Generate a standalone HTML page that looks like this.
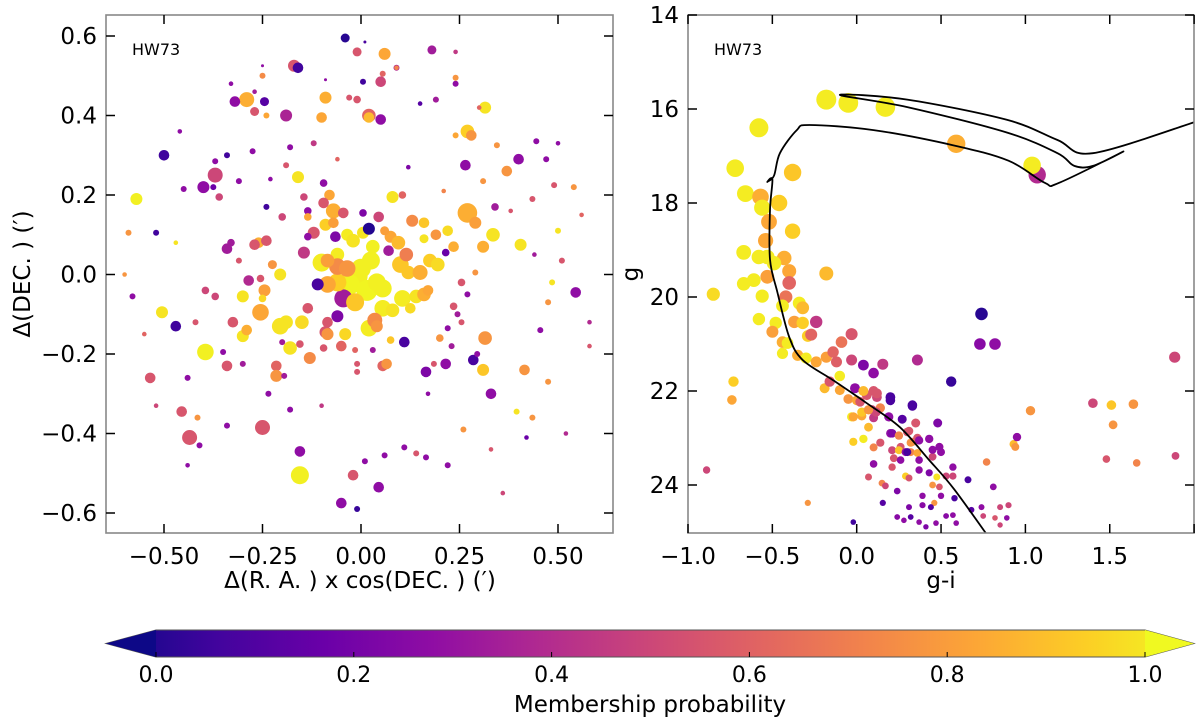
<!DOCTYPE html>
<html><head><meta charset="utf-8"><style>
html,body{margin:0;padding:0;background:#fff;}
svg{display:block;font-family:"DejaVu Sans","Liberation Sans",sans-serif;}
</style></head><body>
<svg id="fig" width="1200" height="724" viewBox="0 0 1200 724">
<defs>
<linearGradient id="plasma" x1="0" x2="1" y1="0" y2="0">
<stop offset="0" stop-color="#0d0887"/><stop offset="0.1" stop-color="#41049d"/><stop offset="0.2" stop-color="#6a00a8"/><stop offset="0.3" stop-color="#8f0da4"/><stop offset="0.4" stop-color="#b12a90"/><stop offset="0.5" stop-color="#cc4778"/><stop offset="0.6" stop-color="#e16462"/><stop offset="0.7" stop-color="#f2844b"/><stop offset="0.8" stop-color="#fca636"/><stop offset="0.9" stop-color="#fcce25"/><stop offset="1" stop-color="#f0f921"/>
</linearGradient>
<clipPath id="clipL"><rect x="106" y="15" width="507" height="518"/></clipPath>
<clipPath id="clipR"><rect x="688" y="15" width="506" height="518"/></clipPath>
</defs>
<g id="leftPanel"></g>
<g id="rightPanel"></g>
<g id="cbar"></g>
</svg>
<script>
// ---- Left panel data (arcmin offsets, membership prob, g magnitude) ----
const raX=[-0.04,0.01,-0.01,0.06,0.18,-0.17,-0.16,-0.25,-0.25,-0.33,-0.09,0.005,0.055,0.05,0.09,-0.29,-0.32,-0.245,-0.27,-0.24,-0.19,-0.09,-0.1,-0.03,-0.01,0.02,0.02,0.05,0.15,0.19,0.24,0.27,0.24,
-0.10,-0.06,-0.035,-0.02,0.005,0.02,0.03,0.025,0.0,-0.01,-0.03,0.015,0.055,0.04,-0.045,-0.015,-0.06,-0.085,-0.06,-0.035,-0.085,-0.11,-0.06,0.02,0.055,0.08,0.105,0.125,0.035,0.10,0.115,0.12,0.15,0.175,0.195,0.14,0.16,0.17,0.075,0.095,0.06,0.13,0.16,0.16,0.19,0.22,0.235,0.215,0.27,0.29,0.335,0.31,0.34,0.07,0.005,0.045,-0.065,-0.12,-0.135,-0.09,-0.07,-0.045,-0.07,-0.08,-0.095,-0.145,-0.135,-0.135,-0.095,0.08,0.105,-0.145,-0.205,-0.225,-0.26,-0.24,-0.27,-0.34,-0.33,-0.31,-0.285,-0.255,-0.245,-0.25,-0.30,-0.255,-0.395,-0.37,-0.40,-0.36,-0.375,-0.24,-0.20,-0.135,-0.205,-0.19,-0.15,-0.325,-0.30,-0.29,-0.20,-0.18,-0.155,-0.13,-0.095,-0.085,-0.09,-0.085,-0.04,-0.05,-0.015,0.03,0.04,0.075,0.11,0.20,0.315,-0.395,-0.35,-0.34,-0.30,-0.215,-0.215,-0.195,-0.01,0.055,0.065,-0.01,0.165,0.215,0.285,0.31,0.27,0.245,0.235,0.255,0.29,0.255,0.22,0.23,0.185,0.295,
-0.57,-0.59,-0.52,-0.47,-0.58,-0.505,-0.47,-0.42,-0.535,-0.44,-0.455,-0.415,-0.435,-0.41,-0.34,-0.25,-0.18,-0.235,-0.155,-0.155,-0.02,-0.05,-0.01,0.045,0.01,0.06,0.11,0.14,0.165,0.22,0.26,0.33,0.395,0.415,0.435,0.475,0.455,0.475,0.545,0.485,0.51,0.405,0.50,0.49,0.54,0.47,0.435,0.40,0.37,0.345,0.31,0.265,0.28,0.315,0.24,0.445,
-0.50,-0.37,-0.34,-0.37,-0.45,-0.18,-0.275,-0.31,-0.16,-0.19,-0.23,-0.12,-0.06,0.12,0.21,0.38,0.44,0.56,0.58,-0.60,-0.52,-0.44,0.33,0.42,0.52,-0.10,0.17,0.30,-0.27,0.09,-0.46,0.36,0.50,0.58,-0.55,0.24];
const decY=[0.595,0.585,0.56,0.555,0.565,0.525,0.52,0.525,0.50,0.48,0.49,0.485,0.505,0.485,0.52,0.44,0.435,0.435,0.41,0.40,0.40,0.445,0.395,0.445,0.44,0.40,0.395,0.39,0.43,0.44,0.48,0.36,0.35,
0.03,0.05,0.10,0.085,0.105,0.115,0.07,0.035,0.015,-0.005,-0.025,-0.04,-0.035,-0.02,-0.06,-0.07,-0.02,-0.025,0.02,0.015,0.035,-0.025,-0.105,-0.135,-0.085,-0.09,-0.06,-0.085,-0.115,0.025,0.05,0.005,0.005,0.035,0.025,-0.055,-0.05,-0.04,0.095,0.08,0.11,0.135,0.13,0.09,0.10,0.11,0.07,0.055,0.155,0.13,0.10,0.07,0.17,0.06,0.155,0.145,0.095,0.105,0.095,0.125,0.16,0.155,0.13,0.20,0.18,0.195,0.16,0.145,0.23,0.195,0.20,0.055,0.0,0.025,0.08,0.085,0.075,0.065,0.08,0.035,-0.015,-0.01,-0.04,-0.06,-0.055,-0.095,-0.04,-0.055,0.22,0.195,0.22,0.17,0.145,-0.085,-0.13,-0.12,-0.12,-0.12,-0.155,-0.14,-0.17,-0.185,-0.175,-0.21,-0.185,-0.12,-0.145,-0.15,-0.15,-0.18,-0.19,-0.19,-0.13,-0.165,-0.17,-0.16,-0.16,-0.195,-0.195,-0.23,-0.225,-0.23,-0.255,-0.255,-0.225,-0.23,-0.225,-0.245,-0.245,-0.225,-0.215,-0.24,-0.05,-0.10,-0.08,-0.12,0.005,-0.02,-0.135,-0.18,-0.225,-0.20,
0.19,0.105,0.105,0.08,-0.055,-0.095,-0.13,-0.12,-0.26,-0.26,-0.345,-0.36,-0.41,-0.43,-0.38,-0.385,-0.34,-0.30,-0.445,-0.505,-0.505,-0.575,-0.59,-0.535,-0.47,-0.455,-0.435,-0.45,-0.46,-0.48,-0.39,-0.30,-0.345,-0.24,-0.36,-0.27,-0.14,-0.07,-0.045,-0.02,0.035,0.075,0.11,0.225,0.22,0.29,0.19,0.29,0.26,0.325,0.235,0.275,0.35,0.42,0.495,0.335,
0.30,0.285,0.30,0.25,0.215,0.32,0.31,0.235,0.245,0.275,0.24,0.33,0.29,0.27,0.21,0.16,0.05,0.15,-0.12,0.0,-0.33,-0.48,-0.44,-0.41,-0.40,-0.33,-0.30,0.42,0.46,0.52,0.36,-0.55,0.33,-0.18,-0.15,0.56];
const probL=[0.05,0.12,0.55,0.8,0.35,0.55,0.1,0.3,0.72,0.3,0.3,0.1,0.6,0.5,0.4,0.82,0.3,0.15,0.55,0.8,0.38,0.82,0.8,0.55,0.55,0.6,0.85,0.3,0.15,0.35,0.3,0.9,0.8,
0.97,0.97,0.97,0.95,0.95,0.04,0.98,0.98,0.98,0.98,0.99,0.99,0.98,0.98,0.35,0.88,0.9,0.8,0.72,0.75,0.78,0.12,0.25,0.97,0.97,0.95,0.97,0.93,0.72,0.88,0.68,0.88,0.82,0.9,0.93,0.95,0.82,0.8,0.8,0.85,0.78,0.72,0.88,0.95,0.75,0.93,0.82,0.2,0.82,0.78,0.95,0.82,0.35,0.35,0.25,0.5,0.25,0.55,0.3,0.9,0.82,0.55,0.78,0.8,0.55,0.5,0.3,0.8,0.3,0.95,0.6,0.45,0.95,0.75,0.82,0.55,0.55,0.35,0.35,0.55,0.4,0.55,0.78,0.92,0.95,0.8,0.5,0.5,0.3,0.5,0.2,0.1,0.5,0.55,0.95,0.95,0.93,0.55,0.95,0.82,0.35,0.95,0.55,0.72,0.55,0.55,0.55,0.75,0.92,0.6,0.6,0.35,0.75,0.88,0.12,0.75,0.75,0.98,0.3,0.55,0.35,0.6,0.75,0.35,0.55,0.6,0.75,0.55,0.25,0.3,0.12,0.88,0.3,0.35,0.55,0.55,0.75,0.55,0.3,0.35,0.55,0.3,
0.98,0.75,0.1,0.95,0.3,0.95,0.1,0.55,0.55,0.3,0.55,0.75,0.55,0.3,0.3,0.55,0.3,0.3,0.3,0.98,0.55,0.3,0.08,0.3,0.3,0.3,0.3,0.55,0.3,0.3,0.75,0.3,0.95,0.75,0.75,0.75,0.3,0.75,0.3,0.95,0.55,0.95,0.95,0.55,0.75,0.3,0.55,0.3,0.75,0.75,0.75,0.3,0.75,0.95,0.75,0.3,
0.1,0.3,0.1,0.5,0.3,0.3,0.3,0.3,0.95,0.55,0.3,0.45,0.6,0.25,0.7,0.55,0.35,0.6,0.4,0.75,0.5,0.3,0.55,0.2,0.4,0.45,0.3,0.6,0.35,0.7,0.3,0.5,0.3,0.55,0.6,0.45];
const magL=[23,25,23,22,23,22,22.5,25,24,24.5,25,24,24,22.5,24,21,22.5,23,23,24,22,22,22.5,24,23.5,21.5,22.5,22.5,24.5,24,24,21.5,24,
20,21.5,22,21.5,22,22,21.5,20,19.5,19,19,19,20,20,20,20,20,20.5,20.5,20.5,21.5,22,22,20.5,20.5,21.5,20.5,22.5,21,20.5,21.5,21.5,21,21.5,21.5,21.5,21.5,22.5,22,21.5,23,22,22.5,23,22.5,22.5,22.5,23.5,19.5,22,21.5,22,23.5,22.5,23.5,22.5,22.5,22,23.5,22,21,22.5,22.5,22.5,22.5,23.5,23.5,23.5,23.5,22,23.5,22,22,23,22.5,22.5,22.5,22.5,23.5,24,22.5,23.5,22,23.5,22,20.5,23.5,23.5,22,23.5,24,24,23.5,22.5,20.5,21.5,21.5,22.5,22,22.5,24,21.5,23.5,22,23.5,22.5,22,22,22,22.5,24,24,22,23.5,22.5,23.5,21.5,20.5,24,22.5,24,22.5,22,24,24,22.5,22.5,24,22.5,22.5,22.5,22,24,24,23.5,24,24,23.5,24,24,24,24,
22,24,24,24.5,24,22,22.5,24,22.5,24,22.5,24,21,24,24,21,24,24,22.5,20,22.5,22.5,24,22.5,24,24,24,24,24,24,24,22.5,24,22.5,24,24,24,24,22.5,24,24,22,24,24,24,24,24,22.5,22.5,24,24,22.5,22.5,22,24,24,
22.5,24,24,21,24,24,24,24,22,24,24.5,24,24.5,24.5,24.5,24.5,24.5,24.5,24.5,24.5,24.5,24.5,24.5,24.5,24.5,24.5,24.5,24.5,24.5,24.5,24.5,24.5,24.5,24.5,24.5,24.5];
const xTicksL=[-0.5,-0.25,0,0.25,0.5], xTickLabL=["\u22120.50","\u22120.25","0.00","0.25","0.50"];
const yTicksL=[-0.6,-0.4,-0.2,0,0.2,0.4,0.6], yTickLabL=["\u22120.6","\u22120.4","\u22120.2","0.0","0.2","0.4","0.6"];

// ---- Right panel data (g-i colour, g magnitude, membership prob) ----
const colGI=[-0.18,-0.05,0.17,0.59,1.07,1.04,-0.58,-0.72,-0.38,-0.66,-0.57,-0.56,-0.46,-0.52,-0.38,-0.54,-0.67,-0.58,-0.53,-0.43,-0.49,-0.40,-0.40,-0.53,-0.18,-0.67,-0.61,-0.85,-0.56,-0.42,-0.34,-0.32,-0.44,-0.58,-0.48,-0.37,-0.32,-0.24,-0.50,-0.44,-0.41,-0.29,-0.27,-0.03,-0.09,-0.44,-0.35,-0.30,-0.24,-0.18,-0.14,-0.12,-0.03,0.04,0.10,0.155,0.36,-0.10,-0.19,-0.16,-0.10,-0.05,-0.01,0.06,0.12,0.20,0.33,-0.03,0.03,0.07,0.10,0.14,0.19,0.27,0.35,0.48,0.56,0.74,0.73,0.82,-0.02,0.04,0.10,0.14,0.20,0.26,0.30,0.33,0.43,0.49,
0.10,0.07,0.15,0.17,0.24,0.21,0.22,0.21,0.26,0.25,0.29,0.32,0.32,0.36,0.37,0.29,0.31,0.37,0.43,0.45,0.49,0.475,0.45,0.49,0.53,0.57,0.57,0.50,0.46,0.39,0.39,0.44,0.31,0.32,0.37,0.41,0.47,0.53,0.58,0.57,0.59,0.66,0.68,0.74,0.75,0.81,0.85,0.82,0.85,0.90,0.89,0.77,0.93,0.155,0.24,0.28,-0.02,
0.00,0.02,0.04,0.10,0.12,0.20,0.33,0.115,0.09,-0.02,0.03,0.07,0.21,0.25,0.31,0.36,0.37,0.45,0.50,0.30,
1.885,1.40,1.51,1.64,1.52,1.48,1.66,1.89,1.03,0.95,0.94,-0.89,-0.73,-0.74,-0.29];
const magG=[15.8,15.87,15.96,16.74,17.4,17.2,16.4,17.26,17.35,17.8,17.87,18.1,18.0,18.4,18.6,18.8,19.05,19.15,19.15,19.17,19.28,19.45,19.7,19.57,19.5,19.72,19.64,19.94,19.98,20.0,20.13,20.23,20.19,20.47,20.55,20.53,20.55,20.53,20.74,20.96,20.98,20.83,20.8,20.79,20.96,21.2,21.24,21.3,21.38,21.28,21.17,21.38,21.34,21.45,21.62,21.43,21.34,21.68,21.94,21.8,21.98,22.17,21.94,22.09,22.13,22.13,22.32,22.55,22.53,22.77,22.57,22.36,22.55,22.6,22.68,22.68,21.8,20.36,21.0,21.0,23.08,23.02,23.2,23.1,22.9,23.19,22.87,23.08,23.02,23.19,
23.55,23.83,23.96,24.02,24.13,23.26,23.43,23.62,23.47,23.26,23.3,23.1,23.3,23.32,23.47,23.81,23.85,23.68,23.74,23.4,23.19,23.83,24.0,24.04,23.81,23.62,23.81,24.23,24.38,24.23,24.43,24.47,24.47,24.68,24.79,24.89,24.81,24.66,24.28,24.64,24.81,23.89,24.53,24.47,24.66,24.04,24.47,24.7,24.85,24.43,24.7,23.51,23.13,24.38,24.68,24.75,24.79,
22.2,22.23,22.0,22.0,22.05,22.2,22.3,22.45,22.4,22.55,22.45,22.4,22.9,22.95,22.85,23.0,23.05,23.25,23.3,23.3,
21.28,22.26,22.3,22.28,22.72,23.45,23.53,23.38,22.42,22.98,23.19,23.68,21.8,22.19,24.38];
const probR=[0.97,0.97,0.97,0.82,0.4,0.97,0.97,0.97,0.88,0.97,0.82,0.97,0.9,0.8,0.9,0.8,0.97,0.97,0.97,0.82,0.97,0.8,0.6,0.78,0.85,0.97,0.97,0.93,0.97,0.65,0.97,0.85,0.97,0.97,0.97,0.78,0.9,0.45,0.78,0.82,0.97,0.9,0.6,0.55,0.65,0.97,0.82,0.97,0.8,0.78,0.6,0.58,0.5,0.25,0.3,0.45,0.4,0.97,0.85,0.55,0.8,0.75,0.3,0.55,0.5,0.12,0.12,0.97,0.8,0.85,0.45,0.7,0.3,0.15,0.55,0.25,0.08,0.05,0.28,0.3,0.9,0.97,0.7,0.55,0.3,0.55,0.55,0.7,0.3,0.5,
0.3,0.55,0.7,0.5,0.25,0.5,0.55,0.55,0.3,0.88,0.3,0.75,0.7,0.8,0.3,0.9,0.55,0.3,0.25,0.5,0.3,0.95,0.75,0.55,0.5,0.3,0.5,0.3,0.75,0.3,0.28,0.15,0.25,0.15,0.3,0.25,0.3,0.28,0.12,0.3,0.3,0.12,0.15,0.3,0.5,0.3,0.5,0.55,0.5,0.5,0.3,0.7,0.85,0.15,0.28,0.3,0.1,
0.8,0.55,0.85,0.55,0.55,0.12,0.12,0.5,0.5,0.8,0.88,0.75,0.25,0.7,0.55,0.55,0.3,0.3,0.3,0.12,
0.5,0.5,0.88,0.75,0.75,0.55,0.7,0.5,0.75,0.3,0.75,0.5,0.9,0.8,0.75];
const xTicksR=[-1,-0.5,0,0.5,1,1.5,2], xTickLabR=["\u22121.0","\u22120.5","0.0","0.5","1.0","1.5",""];
const yTicksR=[14,16,18,20,22,24], yTickLabR=["14","16","18","20","22","24"];
// isochrone
const isoGI=[0.80,0.58,0.43,0.256,0.06,-0.14,-0.32,-0.40,-0.47,-0.514,-0.514,-0.50,-0.53,-0.49,-0.455,-0.355,-0.28,0.10,0.57,0.90,1.115,1.20,1.577,1.40,1.29,1.19,0.89,0.30,-0.10,0.30,0.89,1.19,1.40,2.02];
const isoG=[25.2,24.1,23.47,22.77,22.26,21.77,21.34,20.85,19.9,19.2,18.15,17.5,17.55,17.42,16.94,16.45,16.34,16.45,16.77,17.1,17.57,17.57,16.91,17.21,17.21,16.94,16.5,15.96,15.70,15.8,16.23,16.66,16.94,16.26];
const cbTicks=[0,0.2,0.4,0.6,0.8,1.0], cbLab=["0.0","0.2","0.4","0.6","0.8","1.0"];

const NS="http://www.w3.org/2000/svg";
function mk(tag,attrs,parent){const e=document.createElementNS(NS,tag);for(const k in attrs)e.setAttribute(k,attrs[k]);parent.appendChild(e);return e;}
const stops=[[13,8,135],[65,4,157],[106,0,168],[143,13,164],[177,42,144],[204,71,120],[225,100,98],[242,132,75],[252,166,54],[252,206,37],[240,249,33]];
function plasma(p){p=Math.max(0,Math.min(1,p));const t=p*10,i=Math.min(9,Math.floor(t)),f=t-i;const a=stops[i],b=stops[i+1];return `rgb(${Math.round(a[0]+(b[0]-a[0])*f)},${Math.round(a[1]+(b[1]-a[1])*f)},${Math.round(a[2]+(b[2]-a[2])*f)})`;}

// axis functions
const xL=v=>361+v*394, yL=v=>274.5-v*397.5;
const xR=v=>688+(v+1)*168.7, yR=g=>15+(g-14)*47;

function frame(g,x0,y0,x1,y1,name){
  const r=mk('rect',{x:x0,y:y0,width:x1-x0,height:y1-y0,fill:'none',stroke:'#888',"stroke-width":1.6},g);
  
  
}
function ticks(g,x0,y0,x1,y1,xs,xl,ys,yl,fx,fy,ylabX,axname){
  xs.forEach((v,i)=>{const x=fx(v);
    mk('line',{x1:x,x2:x,y1:y1,y2:y1-9,stroke:'#000',"stroke-width":1.5},g);
    mk('line',{x1:x,x2:x,y1:y0,y2:y0+9,stroke:'#000',"stroke-width":1.5},g);
    if(xl[i]){const t=mk('text',{x:x,y:y1+31,"text-anchor":"middle","font-size":23},g);t.textContent=xl[i];
      
      }
  });
  ys.forEach((v,i)=>{const y=fy(v);
    mk('line',{x1:x0,x2:x0+9,y1:y,y2:y,stroke:'#000',"stroke-width":1.5},g);
    mk('line',{x1:x1,x2:x1-9,y1:y,y2:y,stroke:'#000',"stroke-width":1.5},g);
    const t=mk('text',{x:ylabX,y:y+8,"text-anchor":"end","font-size":23},g);t.textContent=yl[i];
    
    
  });
}
function smoothPath(px,py){
  let d='M'+px[0].toFixed(1)+','+py[0].toFixed(1);
  for(let i=0;i<px.length-1;i++){
    const i0=Math.max(0,i-1),i3=Math.min(px.length-1,i+2);
    const c1x=px[i]+(px[i+1]-px[i0])/6,c1y=py[i]+(py[i+1]-py[i0])/6;
    const c2x=px[i+1]-(px[i3]-px[i])/6,c2y=py[i+1]-(py[i3]-py[i])/6;
    d+='C'+c1x.toFixed(1)+','+c1y.toFixed(1)+' '+c2x.toFixed(1)+','+c2y.toFixed(1)+' '+px[i+1].toFixed(1)+','+py[i+1].toFixed(1);
  }
  return d;
}

// ---- Left panel ----
const L=document.getElementById('leftPanel');
const LP=mk('g',{"clip-path":"url(#clipL)"},L);
for(let i=0;i<raX.length;i++){
  const c=mk('circle',{cx:xL(raX[i]).toFixed(1),cy:yL(decY[i]).toFixed(1),r:Math.max(1.2,(26-magL[i])*1.5).toFixed(1),fill:plasma(probL[i])},LP);
  
  
}
frame(L,106,15,613,533,'spatial-axes-frame');
ticks(L,106,15,613,533,xTicksL,xTickLabL,yTicksL,yTickLabL,xL,yL,97,'spatial');
let t=mk('text',{x:132,y:55,"font-size":16},L);t.textContent='HW73';


t=mk('text',{x:360,y:588,"text-anchor":"middle","font-size":23},L);t.textContent='\u0394(R. A. ) x cos(DEC. ) (\u2032)';


t=mk('text',{x:30,y:274,"text-anchor":"middle","font-size":23,transform:'rotate(-90 30 274)'},L);t.textContent='\u0394(DEC. ) (\u2032)';



// ---- Right panel ----
const R=document.getElementById('rightPanel');
const RP=mk('g',{"clip-path":"url(#clipR)"},R);
for(let i=0;i<colGI.length;i++){
  const c=mk('circle',{cx:xR(colGI[i]).toFixed(1),cy:yR(magG[i]).toFixed(1),r:(2.6+(25-magG[i])*0.8).toFixed(1),fill:plasma(probR[i])},RP);
  
  
}
const ipx=isoGI.map(xR), ipy=isoG.map(yR);
const iso=mk('path',{d:smoothPath(ipx,ipy),fill:'none',stroke:'#000',"stroke-width":1.8,"stroke-linejoin":"round"},RP);


frame(R,688,15,1194,533,'cmd-axes-frame');
ticks(R,688,15,1194,533,xTicksR,xTickLabR,yTicksR,yTickLabR,xR,yR,679,'cmd');
t=mk('text',{x:714,y:55,"font-size":16},R);t.textContent='HW73';


t=mk('text',{x:941,y:588,"text-anchor":"middle","font-size":23},R);t.textContent='g-i';


t=mk('text',{x:638,y:274,"text-anchor":"middle","font-size":23,transform:'rotate(-90 638 274)'},R);t.textContent='g';



// ---- Colorbar ----
const C=document.getElementById('cbar');
const cbx=v=>156+v*989;
const bar=mk('path',{d:'M106,643.5 L156,630 L1145,630 L1194,643.5 L1145,657 L156,657 Z',fill:'url(#plasma)',stroke:'#555',"stroke-width":1},C);


mk('path',{d:'M106,643.5 L156,630 L156,657 Z',fill:'#0d0887'},C);
mk('path',{d:'M1194,643.5 L1145,630 L1145,657 Z',fill:'#f0f921'},C);
cbTicks.forEach((v,i)=>{const x=cbx(v);
  mk('line',{x1:x,x2:x,y1:657,y2:652,stroke:'#000',"stroke-width":1},C);
  const tt=mk('text',{x:x,y:682,"text-anchor":"middle","font-size":22},C);tt.textContent=cbLab[i];
  
  
});
t=mk('text',{x:650,y:712,"text-anchor":"middle","font-size":23},C);t.textContent='Membership probability';


</script>
</body></html>
